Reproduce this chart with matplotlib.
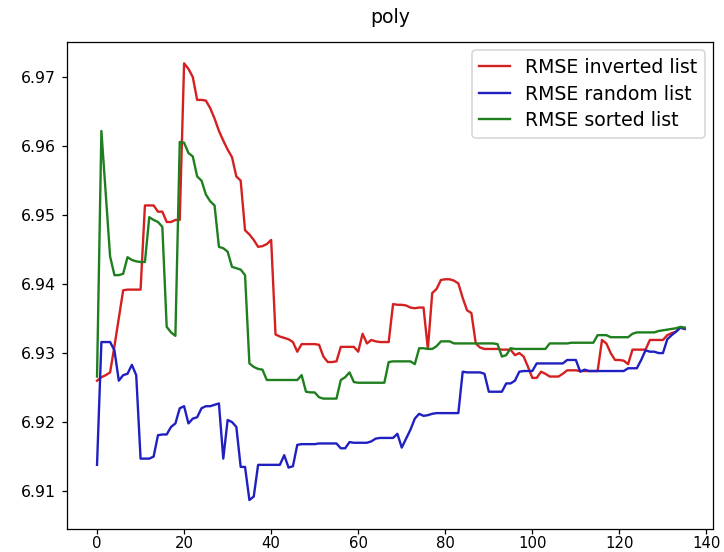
import matplotlib
matplotlib.use("Agg")
import matplotlib.pyplot as plt
import numpy as np

red = [
    6.9260, 6.9265, 6.9268, 6.9272, 6.9310, 6.9350, 6.9391, 6.9392, 6.9392, 6.9392,
    6.9392, 6.9514, 6.9514, 6.9514, 6.9505, 6.9505, 6.9490, 6.9490, 6.9493, 6.9493,
    6.9720, 6.9712, 6.9700, 6.9667, 6.9667, 6.9666, 6.9655, 6.9640, 6.9622, 6.9608,
    6.9595, 6.9584, 6.9556, 6.9550, 6.9478, 6.9472, 6.9464, 6.9454, 6.9455, 6.9458,
    6.9464, 6.9327, 6.9324, 6.9322, 6.9320, 6.9316, 6.9302, 6.9313, 6.9313, 6.9313,
    6.9313, 6.9312, 6.9295, 6.9287, 6.9287, 6.9288, 6.9309, 6.9309, 6.9309, 6.9309,
    6.9302, 6.9328, 6.9314, 6.9319, 6.9317, 6.9316, 6.9316, 6.9316, 6.9371, 6.9370,
    6.9370, 6.9369, 6.9366, 6.9365, 6.9366, 6.9366, 6.9306, 6.9387, 6.9393, 6.9406,
    6.9407, 6.9407, 6.9405, 6.9401, 6.9380, 6.9362, 6.9358, 6.9314, 6.9308, 6.9306,
    6.9306, 6.9306, 6.9306, 6.9305, 6.9305, 6.9305, 6.9297, 6.9300, 6.9295, 6.9280,
    6.9264, 6.9264, 6.9273, 6.9270, 6.9266, 6.9266, 6.9266, 6.9270, 6.9275, 6.9275,
    6.9275, 6.9274, 6.9274, 6.9274, 6.9274, 6.9274, 6.9319, 6.9314, 6.9300, 6.9290,
    6.9290, 6.9289, 6.9284, 6.9305, 6.9305, 6.9305, 6.9305, 6.9319, 6.9319, 6.9319,
    6.9319, 6.9326, 6.9329, 6.9331, 6.9337, 6.9335,
]

blue = [
    6.9138, 6.9316, 6.9316, 6.9316, 6.9304, 6.9260, 6.9268, 6.9270, 6.9283, 6.9268,
    6.9147, 6.9147, 6.9147, 6.9150, 6.9181, 6.9182, 6.9182, 6.9193, 6.9198, 6.9220,
    6.9223, 6.9198, 6.9205, 6.9207, 6.9220, 6.9223, 6.9223, 6.9225, 6.9227, 6.9147,
    6.9203, 6.9200, 6.9193, 6.9135, 6.9135, 6.9087, 6.9092, 6.9138, 6.9138, 6.9138,
    6.9138, 6.9138, 6.9138, 6.9152, 6.9134, 6.9136, 6.9167, 6.9168, 6.9168, 6.9168,
    6.9168, 6.9169, 6.9169, 6.9169, 6.9169, 6.9169, 6.9162, 6.9162, 6.9171, 6.9170,
    6.9170, 6.9170, 6.9170, 6.9172, 6.9176, 6.9177, 6.9177, 6.9177, 6.9177, 6.9183,
    6.9163, 6.9176, 6.9189, 6.9205, 6.9212, 6.9209, 6.9210, 6.9212, 6.9213, 6.9213,
    6.9213, 6.9213, 6.9213, 6.9213, 6.9273, 6.9272, 6.9272, 6.9272, 6.9272, 6.9270,
    6.9244, 6.9244, 6.9244, 6.9244, 6.9256, 6.9256, 6.9260, 6.9273, 6.9274, 6.9274,
    6.9274, 6.9285, 6.9285, 6.9285, 6.9285, 6.9285, 6.9285, 6.9285, 6.9290, 6.9290,
    6.9290, 6.9273, 6.9276, 6.9274, 6.9274, 6.9274, 6.9274, 6.9274, 6.9274, 6.9274,
    6.9274, 6.9274, 6.9278, 6.9278, 6.9278, 6.9290, 6.9304, 6.9302, 6.9302, 6.9300,
    6.9300, 6.9320, 6.9326, 6.9331, 6.9337, 6.9335,
]

green = [
    6.9266, 6.9622, 6.9530, 6.9440, 6.9413, 6.9413, 6.9415, 6.9439, 6.9435, 6.9433,
    6.9432, 6.9432, 6.9497, 6.9493, 6.9490, 6.9483, 6.9338, 6.9330, 6.9325, 6.9606,
    6.9605, 6.9590, 6.9585, 6.9556, 6.9550, 6.9530, 6.9520, 6.9514, 6.9454, 6.9452,
    6.9447, 6.9425, 6.9423, 6.9421, 6.9413, 6.9285, 6.9280, 6.9277, 6.9276, 6.9261,
    6.9261, 6.9261, 6.9261, 6.9261, 6.9261, 6.9261, 6.9261, 6.9268, 6.9244, 6.9243,
    6.9243, 6.9236, 6.9234, 6.9234, 6.9234, 6.9234, 6.9261, 6.9265, 6.9272, 6.9258,
    6.9257, 6.9257, 6.9257, 6.9257, 6.9257, 6.9257, 6.9257, 6.9287, 6.9288, 6.9288,
    6.9288, 6.9288, 6.9288, 6.9284, 6.9307, 6.9307, 6.9306, 6.9306, 6.9310, 6.9317,
    6.9317, 6.9317, 6.9314, 6.9314, 6.9314, 6.9314, 6.9314, 6.9314, 6.9314, 6.9314,
    6.9314, 6.9314, 6.9313, 6.9295, 6.9297, 6.9307, 6.9306, 6.9306, 6.9306, 6.9306,
    6.9306, 6.9306, 6.9306, 6.9306, 6.9314, 6.9314, 6.9314, 6.9314, 6.9314, 6.9315,
    6.9315, 6.9315, 6.9315, 6.9315, 6.9315, 6.9326, 6.9326, 6.9326, 6.9323, 6.9323,
    6.9323, 6.9323, 6.9323, 6.9328, 6.9330, 6.9330, 6.9330, 6.9330, 6.9330, 6.9332,
    6.9333, 6.9334, 6.9335, 6.9336, 6.9338, 6.9337,
]

labels = ["RMSE inverted list", "RMSE random list", "RMSE sorted list"]
title = "poly"

fig = plt.figure(figsize=(6.4, 4.88), dpi=113.125)
ax = fig.add_axes([67/724, 1 - 529/552, (713 - 67)/724, (529 - 42)/552])
x = np.arange(len(red))
ax.plot(x, red, color="#d42020", lw=1.5, label=labels[0])
ax.plot(x, blue, color="#2020c0", lw=1.5, label=labels[1])
ax.plot(x, green, color="#1f7f1f", lw=1.5, label=labels[2])
ax.set_xticks([0, 20, 40, 60, 80, 100, 120, 140])
ax.set_xlim(-6.9, 141.5)
ax.set_ylim(6.9045, 6.9751)
ax.tick_params(axis="x", pad=1.0, labelsize=9.5)
ax.set_title(title, pad=12)
ax.legend(loc="upper right", fontsize=12, handlelength=1.6,
          borderaxespad=0.45, labelspacing=0.4)
fig.savefig("out.png", dpi=113.125)
